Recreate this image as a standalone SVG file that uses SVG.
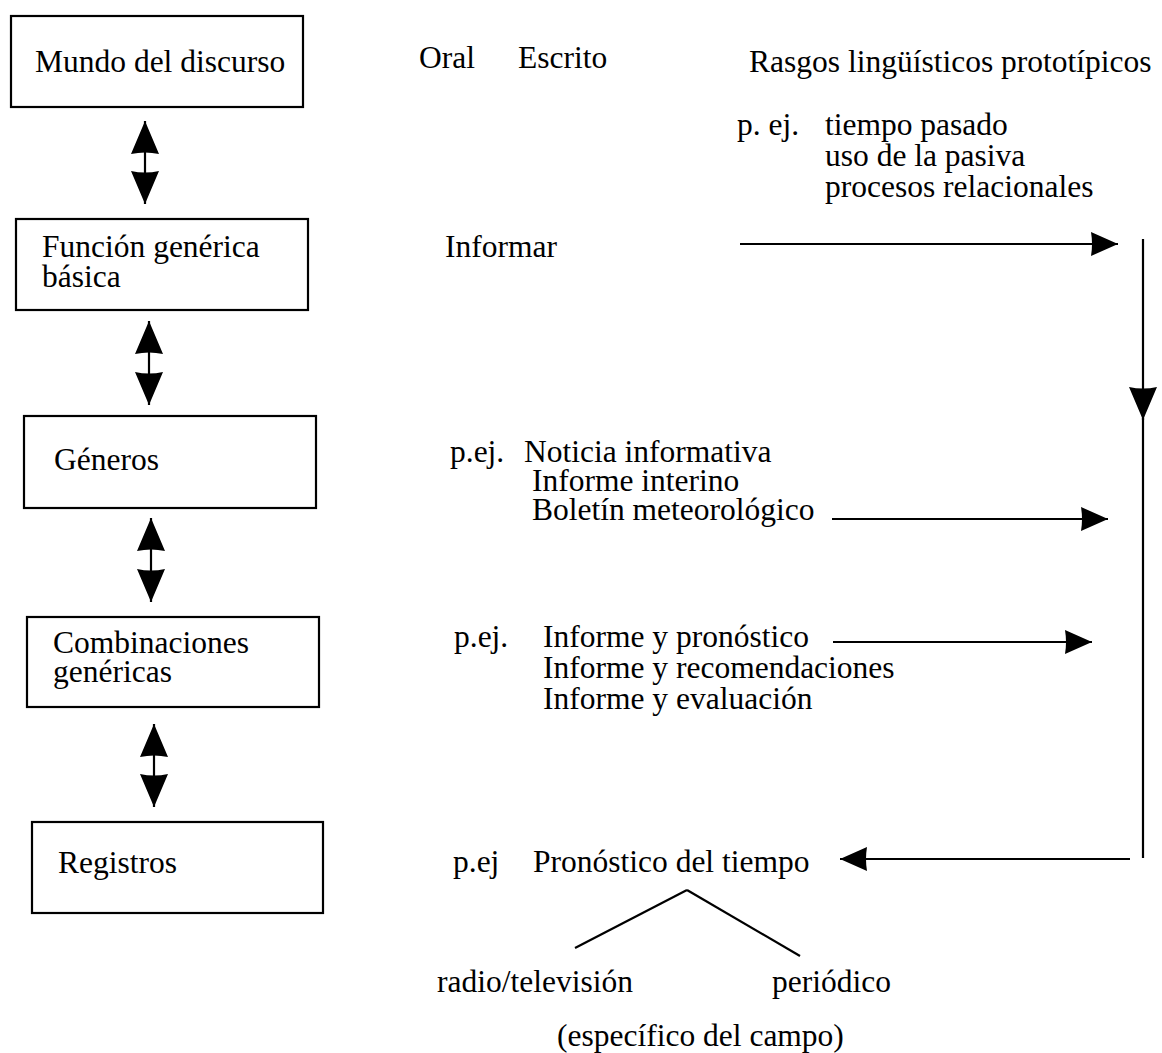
<svg xmlns="http://www.w3.org/2000/svg" width="1162" height="1053" viewBox="0 0 1162 1053">
<style>
text{font-size:31.5px;fill:#000}
.box{fill:#fff;stroke:#000;stroke-width:2.2}
.ln{stroke:#000;stroke-width:2.2;fill:none}
</style>
<defs>
<marker id="ah" markerUnits="userSpaceOnUse" markerWidth="30" markerHeight="26" refX="27" refY="12" orient="auto" viewBox="0 0 30 26">
<path d="M0,0 L27,12 L0,24 Q2,12 0,0 Z" fill="#000"/>
</marker>
<marker id="ahb" markerUnits="userSpaceOnUse" markerWidth="34" markerHeight="30" refX="33" refY="14" orient="auto-start-reverse" viewBox="0 0 34 30">
<path d="M0,0 L33,14 L0,28 Q3,14 0,0 Z" fill="#000"/>
</marker>
</defs>
<rect width="1162" height="1053" fill="#fff"/>
<g font-family="'Liberation Serif', 'DejaVu Serif', serif">
<g id="node-mundo">
<rect class="box" x="11" y="16" width="292" height="91"/>
<text x="35" y="72">Mundo del discurso</text>
</g>
<g id="node-funcion">
<rect class="box" x="16" y="219" width="292" height="91"/>
<text x="42" y="257">Función genérica</text>
<text x="42" y="287">básica</text>
</g>
<g id="node-generos">
<rect class="box" x="24" y="416" width="292" height="92"/>
<text x="54" y="470">Géneros</text>
</g>
<g id="node-combinaciones">
<rect class="box" x="27" y="617" width="292" height="90"/>
<text x="53" y="653">Combinaciones</text>
<text x="53" y="682">genéricas</text>
</g>
<g id="node-registros">
<rect class="box" x="32" y="822" width="291" height="91"/>
<text x="58" y="873">Registros</text>
</g>

<g id="header">
<text x="419" y="68">Oral</text>
<text x="518" y="68">Escrito</text>
<text x="749" y="72">Rasgos lingüísticos prototípicos</text>
</g>
<g id="rasgos">
<text x="737" y="135">p. ej.</text>
<text x="825" y="135">tiempo pasado</text>
<text x="825" y="166">uso de la pasiva</text>
<text x="825" y="197">procesos relacionales</text>
</g>
<g id="informar">
<text x="445" y="257">Informar</text>
</g>
<g id="generos-ej">
<text x="450" y="462">p.ej.</text>
<text x="524" y="462">Noticia informativa</text>
<text x="532" y="491">Informe interino</text>
<text x="532" y="520">Boletín meteorológico</text>
</g>
<g id="combinaciones-ej">
<text x="454" y="647">p.ej.</text>
<text x="543" y="647">Informe y pronóstico</text>
<text x="543" y="678">Informe y recomendaciones</text>
<text x="543" y="709">Informe y evaluación</text>
</g>
<g id="registros-ej">
<text x="453" y="872">p.ej</text>
<text x="533" y="872">Pronóstico del tiempo</text>
<text x="437" y="992">radio/televisión</text>
<text x="772" y="992">periódico</text>
<text x="557" y="1046">(específico del campo)</text>
</g>
</g>
<g id="connectors">
<line class="ln" x1="145" y1="121" x2="145" y2="204" marker-start="url(#ahb)" marker-end="url(#ahb)"/>
<line class="ln" x1="149" y1="321" x2="149" y2="405" marker-start="url(#ahb)" marker-end="url(#ahb)"/>
<line class="ln" x1="151" y1="518" x2="151" y2="602" marker-start="url(#ahb)" marker-end="url(#ahb)"/>
<line class="ln" x1="154" y1="724" x2="154" y2="807" marker-start="url(#ahb)" marker-end="url(#ahb)"/>
<line class="ln" x1="740" y1="244" x2="1118" y2="244" marker-end="url(#ah)"/>
<line class="ln" x1="1143" y1="239" x2="1143" y2="420" marker-end="url(#ahb)"/>
<line class="ln" x1="1143" y1="418" x2="1143" y2="858"/>
<line class="ln" x1="832" y1="519" x2="1108" y2="519" marker-end="url(#ah)"/>
<line class="ln" x1="833" y1="642" x2="1092" y2="642" marker-end="url(#ah)"/>
<line class="ln" x1="1130" y1="859" x2="840" y2="859" marker-end="url(#ah)"/>
<line class="ln" x1="687" y1="890" x2="575" y2="948"/>
<line class="ln" x1="687" y1="890" x2="800" y2="956"/>
</g>
</svg>
